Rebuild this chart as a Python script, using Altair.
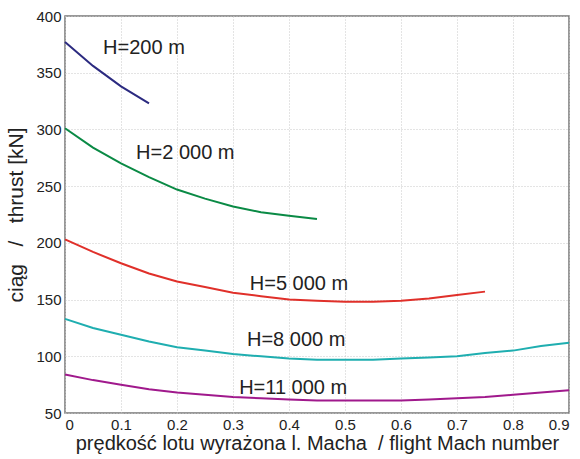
import altair as alt
import pandas as pd

# ---- data ----
mach_200 = [0.0, 0.05, 0.1, 0.15]
thrust_200 = [377, 356, 338, 323]

mach_2000 = [0.0, 0.05, 0.1, 0.15, 0.2, 0.25, 0.3, 0.35, 0.4, 0.45]
thrust_2000 = [301, 284, 270, 258, 247, 239, 232, 227, 224, 221]

mach_5000 = [0.0, 0.05, 0.1, 0.15, 0.2, 0.25, 0.3, 0.35, 0.4, 0.45, 0.5, 0.55, 0.6, 0.65, 0.7, 0.75]
thrust_5000 = [203, 192, 182, 173, 166, 161, 156, 153, 150, 149, 148, 148, 149, 151, 154, 157]

mach_8000 = [0.0, 0.05, 0.1, 0.15, 0.2, 0.25, 0.3, 0.35, 0.4, 0.45, 0.5, 0.55, 0.6, 0.65, 0.7, 0.75, 0.8, 0.85, 0.9]
thrust_8000 = [133, 125, 119, 113, 108, 105, 102, 100, 98, 97, 97, 97, 98, 99, 100, 103, 105, 109, 112]

mach_11000 = [0.0, 0.05, 0.1, 0.15, 0.2, 0.25, 0.3, 0.35, 0.4, 0.45, 0.5, 0.55, 0.6, 0.65, 0.7, 0.75, 0.8, 0.85, 0.9]
thrust_11000 = [84, 79, 75, 71, 68, 66, 64, 63, 62, 61, 61, 61, 61, 62, 63, 64, 66, 68, 70]

series_names = ["H=200 m", "H=2 000 m", "H=5 000 m", "H=8 000 m", "H=11 000 m"]
series_colors = ["#2B2A80", "#0A8A45", "#E0302A", "#1FAEB0", "#A0198C"]

label_x = [0.068, 0.127, 0.33, 0.325, 0.311]
label_y = [372, 279, 164, 114, 72]

# ---- build tables ----
rows = []
for name, xs, ys in zip(series_names,
                        [mach_200, mach_2000, mach_5000, mach_8000, mach_11000],
                        [thrust_200, thrust_2000, thrust_5000, thrust_8000, thrust_11000]):
    for i, (x, y) in enumerate(zip(xs, ys)):
        rows.append({"series": name, "mach": x, "thrust": y, "order": i})
df = pd.DataFrame(rows)
labels = pd.DataFrame({"series": series_names, "mach": label_x, "thrust": label_y})

color_scale = alt.Scale(domain=series_names, range=series_colors)

NB = "\u00a0"
x_title = "prędkość lotu wyrażona l. Macha" + NB + NB + "/ flight Mach number"
y_title = "ciąg" + NB * 3 + "/" + NB * 3 + "thrust [kN]"

x_enc = alt.X("mach:Q",
              scale=alt.Scale(domain=[0, 0.9], nice=False),
              axis=alt.Axis(values=[0, 0.1, 0.2, 0.3, 0.4, 0.5, 0.6, 0.7, 0.8, 0.9],
                            format="~g",
                            title=x_title))
y_enc = alt.Y("thrust:Q",
              scale=alt.Scale(domain=[50, 400], nice=False),
              axis=alt.Axis(values=[50, 100, 150, 200, 250, 300, 350, 400],
                            title=y_title, titleFontSize=21))

lines = alt.Chart(df).mark_line(strokeWidth=2).encode(
    x=x_enc,
    y=y_enc,
    color=alt.Color("series:N", scale=color_scale, legend=None),
    order="order:Q",
)

texts = alt.Chart(labels).mark_text(
    align="left", baseline="middle", fontSize=20, font="Liberation Sans", color="#222222"
).encode(
    x="mach:Q",
    y="thrust:Q",
    text="series:N",
)

chart = alt.layer(lines, texts).properties(
    width=504, height=397,
    autosize=alt.AutoSizeParams(type="none"),
    padding={"left": 65, "top": 16, "right": 11, "bottom": 46},
    background="white",
).configure_view(
    stroke="#777777", strokeWidth=1.5
).configure_axis(
    grid=True,
    gridColor="#c8c8c8",
    gridDash=[1, 2],
    gridWidth=1,
    domain=False,
    ticks=False,
    labelFont="Liberation Sans",
    labelFontSize=15,
    labelColor="#222222",
    labelPadding=4,
    titleFont="Liberation Sans",
    titleFontSize=20,
    titleFontWeight="normal",
    titleColor="#222222",
).configure_axisX(
    labelPadding=4,
    titlePadding=1,
).configure_axisY(
    titlePadding=9,
)

chart.save("out.html", embed_options={"renderer": "svg", "actions": False})
